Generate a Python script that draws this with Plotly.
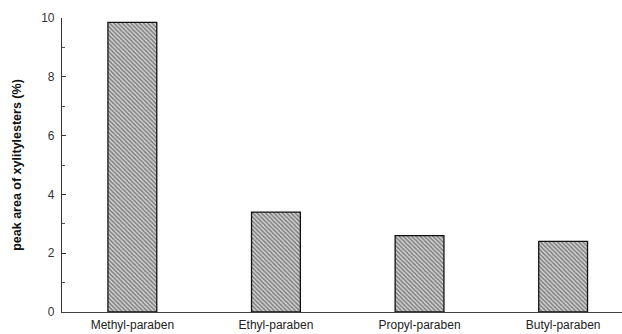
import plotly.graph_objects as go

categories = ["Methyl-paraben", "Ethyl-paraben", "Propyl-paraben", "Butyl-paraben"]
peak_area = [9.85, 3.4, 2.6, 2.4]
y_ticks = [0, 2, 4, 6, 8, 10]

fig = go.Figure()
fig.add_trace(go.Bar(
    x=categories,
    y=peak_area,
    width=0.34,
    marker=dict(
        color="#c8c8c8",
        line=dict(color="#111111", width=1.3),
        pattern=dict(shape="\\", size=3, solidity=0.5, fgcolor="#262626", bgcolor="#d4d4d4"),
    ),
))

fig.update_layout(
    width=622, height=334,
    margin=dict(l=62, r=0, t=18, b=22),
    paper_bgcolor="white", plot_bgcolor="white",
    showlegend=False,
    font=dict(family="Liberation Sans, Arial, sans-serif", color="#222222", size=12),
    bargap=0.66,
)
fig.update_xaxes(
    range=[-0.49, 3.41],
    showline=True, linecolor="#444444", linewidth=1.2,
    ticks="", showgrid=False, zeroline=False,
    tickfont=dict(size=12, color="#222222"),
    ticklabelstandoff=1,
)
fig.update_yaxes(
    range=[0, 10],
    tickvals=y_ticks,
    ticktext=[str(v) for v in y_ticks],
    showline=True, linecolor="#333333", linewidth=1.2,
    ticks="inside", ticklen=4, tickcolor="#333333",
    minor=dict(dtick=1, tick0=0, ticks="inside", ticklen=3, tickcolor="#555555", showgrid=False),
    showgrid=False, zeroline=False,
    tickfont=dict(size=12, color="#333333"),
    ticklabelstandoff=4,
    title=dict(text="<b>peak area of xylitylesters (%)</b>", font=dict(size=12.5, color="#111111"), standoff=16),
)

fig.write_html(
    "out.html",
    config={"displayModeBar": False},
    post_script="document.body.style.margin='0';document.body.style.overflow='hidden';",
)
